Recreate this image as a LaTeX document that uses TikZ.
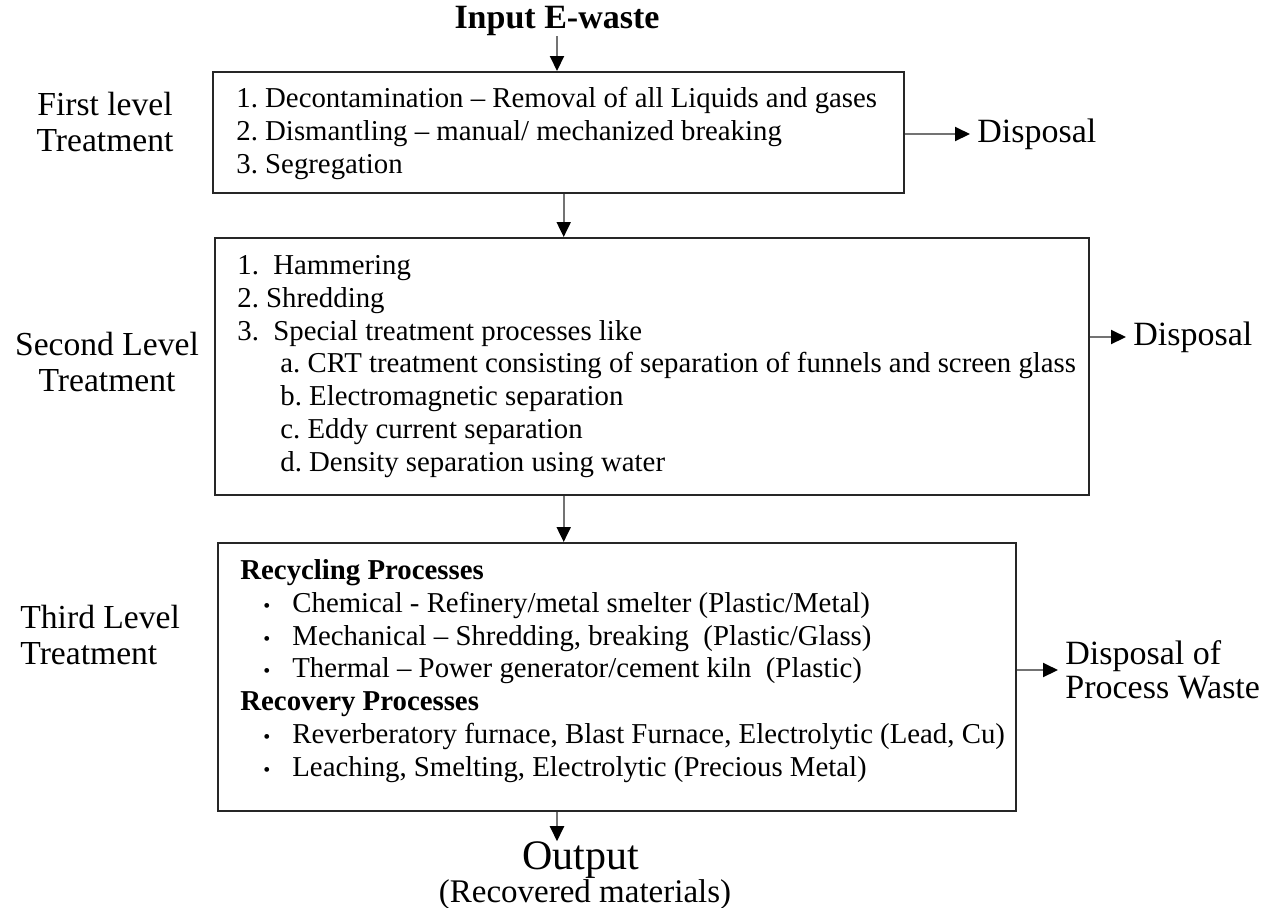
\documentclass[tikz,border=0pt]{standalone}
\usepackage{fontspec}
\setmainfont{Liberation Serif}
\usetikzlibrary{arrows.meta,positioning}

\newcommand{\itm}{\hspace*{11.5pt}\makebox[14.5pt][l]{\fontsize{10}{10}\selectfont\textbullet}}
\newcommand{\subitm}{\hspace*{21.5pt}}

\begin{document}
\frenchspacing
\begin{tikzpicture}[x=0.5pt,y=-0.5pt,>={Triangle[length=7.5pt,width=7pt,color=black]},
    stage/.style={draw=black!85,line width=1.2pt,anchor=north west,inner sep=0pt},
    steps/.style={anchor=west,align=left,inner sep=0pt,font=\fontsize{14.4}{16.4}\selectfont},
    level/.style={align=center,inner sep=0pt,font=\fontsize{16.8}{18}\selectfont},
    sink/.style={anchor=west,align=left,inner xsep=3.5pt,inner ysep=0pt,font=\fontsize{17}{17}\selectfont},
    flow/.style={->,draw=black!55,line width=1pt}]

  \useasboundingbox (0,0) rectangle (1264,907);

  \node[inner sep=0pt,font=\bfseries\fontsize{17}{17}\selectfont] (input) at (557,21) {Input E-waste};

  % treatment boxes
  \node[stage,minimum width=345.5pt,minimum height=60.5pt] (first) at (212,71) {};
  \node[stage,minimum width=437pt,minimum height=128.5pt] (second) at (214,237) {};
  \node[stage,minimum width=399pt,minimum height=134pt] (third) at (217,542) {};

  \node[steps] (firsttxt) at (236,133.5) {1. Decontamination – Removal of all Liquids and gases\\
    2. Dismantling – manual/ mechanized breaking\\
    3. Segregation};
  \node[steps] (secondtxt) at (237,366.5) {1.\ \ Hammering\\
    2. Shredding\\
    3.\ \ Special treatment processes like\\
    \subitm a. CRT treatment consisting of separation of funnels and screen glass\\
    \subitm b. Electromagnetic separation\\
    \subitm c. Eddy current separation\\
    \subitm d. Density separation using water};
  \node[steps] (thirdtxt) at (240,671) {\textbf{Recycling Processes}\\
    \itm Chemical - Refinery/metal smelter (Plastic/Metal)\\
    \itm Mechanical – Shredding, breaking\ \ (Plastic/Glass)\\
    \itm Thermal – Power generator/cement kiln\ \ (Plastic)\\
    \textbf{Recovery Processes}\\
    \itm Reverberatory furnace, Blast Furnace, Electrolytic (Lead, Cu)\\
    \itm Leaching, Smelting, Electrolytic (Precious Metal)};

  % levels
  \node[level] (lvl1) at (105,121.5) {First level\\Treatment};
  \node[level] (lvl2) at (107,361.5) {Second Level\\Treatment};
  \node[level,align=left,anchor=west] (lvl3) at (20,634.5) {Third Level\\Treatment};

  % disposal
  \node[sink] (disp1) at (970,134) {Disposal};
  \node[sink] (disp2) at (1126,337) {Disposal};
  \node[sink] (disp3) at (1058,670) {Disposal of\\Process Waste};

  \node[inner sep=0pt,font=\fontsize{21}{21}\selectfont] (output) at (581,860) {Output};
  \node[inner sep=0pt,font=\fontsize{16.5}{16.5}\selectfont] (recovered) at (585,895) {(Recovered materials)};

  \draw[flow] (input) -- (input |- first.north);
  \draw[flow] ([xshift=2.5pt]first.south) -- ([xshift=2.5pt]first.south |- second.north);
  \draw[flow] ([xshift=2.5pt]first.south |- second.south) -- ([xshift=2.5pt]first.south |- third.north);
  \draw[flow] (input |- third.south) -- (input |- output.north);
  \draw[flow] (first.east |- disp1.west) -- (disp1.west);
  \draw[flow] (second.east |- disp2.west) -- (disp2.west);
  \draw[flow] (third.east |- disp3.west) -- (disp3.west);

\end{tikzpicture}
\end{document}
